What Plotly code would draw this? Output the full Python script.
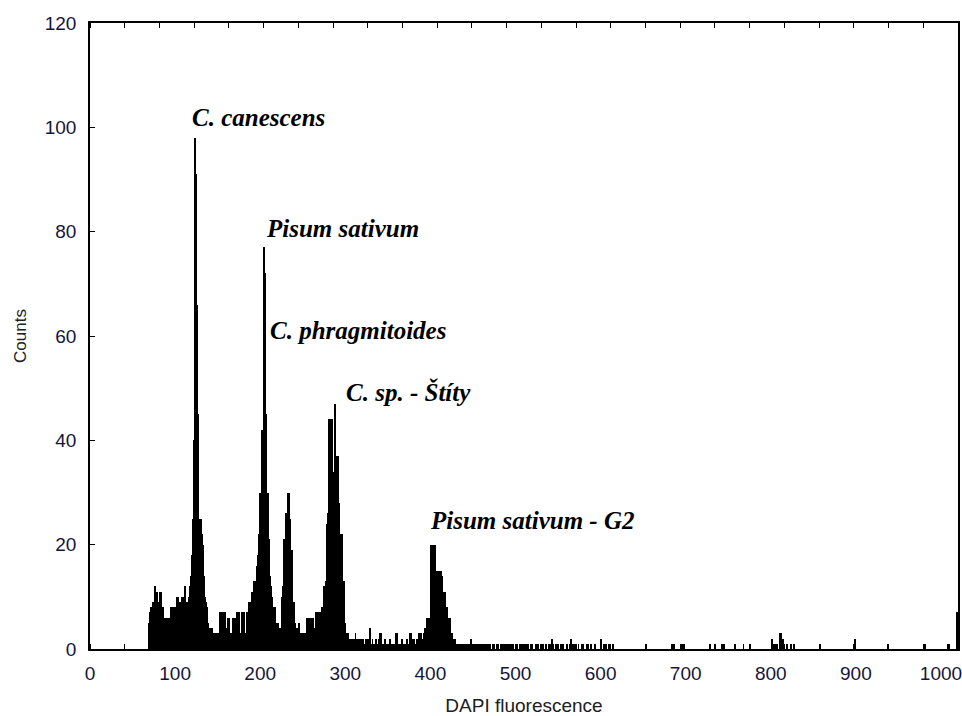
import plotly.graph_objects as go

# DAPI fluorescence histogram: counts per channel
body_start = 69
body_counts = [
    5, 5, 7, 8, 8, 9, 9, 12, 12, 11,        # 69-78
    11, 9, 9, 11, 11, 11, 8, 8, 6, 6,       # 79-88
    6, 6, 5, 5, 6, 6, 8, 8, 8, 7,           # 89-98
    8, 8, 8, 10, 10, 9, 9, 9, 9, 10,        # 99-108
    10, 8, 12, 12, 9, 9, 6, 10, 12, 12,     # 109-118
    14, 18, 25, 40, 98, 91, 91, 66, 45, 25, # 119-128
    25, 24, 25, 22, 20, 14, 10, 9, 8, 5,    # 129-138
    5, 4, 4, 4, 4, 3, 3, 3, 3, 3,           # 139-148
    3, 3, 3, 3, 7, 7, 7, 7, 6, 7,           # 149-158
    7, 4, 4, 6, 6, 3, 3, 3, 3, 6,           # 159-168
    6, 6, 2, 2, 7, 7, 7, 3, 3, 3,           # 169-178
    7, 7, 7, 3, 3, 7, 7, 7, 9, 9,           # 179-188
    9, 11, 11, 11, 13, 13, 13, 16, 18, 18,  # 189-198
    22, 30, 30, 42, 42, 77, 72, 72, 45, 30, # 199-208
    30, 21, 21, 14, 12, 10, 8, 8, 8, 5,     # 209-218
    5, 5, 5, 4, 4, 4, 6, 10, 12, 21,        # 219-228
    21, 26, 26, 30, 30, 30, 25, 19, 19, 13, # 229-238
    9, 9, 5, 4, 4, 4, 5, 5, 3, 3,           # 239-248
    3, 3, 3, 3, 3, 3, 6, 6, 2, 2,           # 249-258
    6, 6, 6, 6, 4, 4, 4, 7, 7, 7,           # 259-268
    7, 7, 7, 7, 8, 8, 12, 12, 13, 24,       # 269-278
    24, 26, 44, 44, 44, 44, 32, 34, 34, 47, # 279-288
    37, 37, 37, 28, 28, 22, 22, 22, 13, 13, # 289-298
    8, 5, 3, 3, 3, 2, 2, 1, 2, 2,           # 299-308
    1, 2, 2, 3, 2, 1, 2, 1, 2, 2,           # 309-318
    0, 1, 2, 1, 0, 2, 1, 2, 0, 2,           # 319-328
    4, 1, 0, 2, 1, 1, 0, 2, 1, 0,           # 329-338
    1, 2, 3, 3, 1, 1, 0, 1, 2, 1,           # 339-348
    1, 0, 1, 1, 2, 1, 0, 1, 1, 1,           # 349-358
    0, 3, 3, 1, 1, 0, 1, 1, 2, 1,           # 359-368
    0, 1, 1, 1, 2, 1, 1, 3, 3, 1,           # 369-378
    2, 1, 2, 1, 1, 2, 2, 2, 3, 2,           # 379-388
    3, 2, 2, 3, 2, 4, 4, 6, 6, 6,           # 389-398
    6, 6, 20, 20, 16, 20, 20, 15, 15, 15,   # 399-408
    15, 15, 15, 15, 14, 14, 11, 11, 11, 8,  # 409-418
    8, 8, 6, 6, 6, 3, 3,                    # 419-425
]

tail_start = 426
tail_counts = [
    2, 2, 1, 2, 1, 1, 0, 1, 1, 0, 1, 1, 1, 0, 1, 0, 1, 1, 0, 1,  # 426-445
    1, 0, 2, 1, 0, 1, 1, 0, 0, 1, 1, 0, 1, 0, 0, 1, 1, 0, 1, 0,  # 446-465
    0, 1, 0, 1, 1, 0, 0, 1, 0, 1, 0, 0, 1, 1, 0, 0, 0, 1, 0, 1,  # 466-485
    0, 0, 1, 1, 0, 1, 0, 0, 1, 0, 1, 1, 0, 0, 1, 0, 1, 0, 0, 1,  # 486-505
    1, 0, 0, 1, 0, 1, 0, 0, 1, 1, 0, 0, 1, 0, 1, 0, 0, 0, 1, 1,  # 506-525
    0, 1, 0, 0, 1, 0, 1, 1, 0, 0, 1, 0, 0, 1, 0, 1, 0, 2, 1, 0,  # 526-545
    0, 1, 0, 1, 1, 0, 0, 1, 0, 0, 1, 0, 0, 0, 1, 1, 0, 0, 1, 2,  # 546-565
    1, 0, 0, 1, 1, 0, 0, 0, 1, 0, 0, 0, 1, 0, 1, 0, 0, 0, 1, 1,  # 566-585
    0, 0, 0, 1, 0, 0, 0, 1, 1, 0, 0, 0, 0, 0, 2, 1, 0, 0, 1, 0,  # 586-605
    1, 1, 0, 0, 1, 0, 0, 0, 0, 1, 0, 0, 0, 0, 0, 0, 0, 0, 0, 0,  # 606-625
]

sparse_channels = [654, 684, 686, 694, 695, 697, 698, 728, 729, 735, 743, 745,
                   758, 768, 776, 801, 802, 803, 805, 806, 807, 811, 812, 813,
                   814, 819, 824, 827, 858, 899, 938, 981, 1008, 1009, 1019]
sparse_counts = [1, 1, 1, 1, 1, 1, 1, 1, 1, 1, 1, 1,
                 1, 1, 1, 2, 1, 1, 1, 1, 1, 3, 3, 2,
                 2, 1, 1, 1, 1, 2, 1, 1, 1, 1, 7]

x_ticks = list(range(0, 1001, 100))
y_ticks = list(range(0, 121, 20))

peak_names = ["C. canescens", "Pisum sativum", "C. phragmitoides",
              "C. sp. - Štíty", "Pisum sativum - G2"]

channels = (list(range(body_start, body_start + len(body_counts)))
            + list(range(tail_start, tail_start + len(tail_counts)))
            + sparse_channels)
counts = body_counts + tail_counts + sparse_counts

fig = go.Figure()
fig.add_trace(go.Bar(
    x=channels, y=counts, width=1,
    marker=dict(color="black", line=dict(width=0)),
    hoverinfo="x+y",
))

# label anchor points (data coordinates) for each peak name
label_pos = [(117.0, 101.8), (205.0, 80.6), (208.8, 61.0), (299.0, 49.2), (396.6, 24.7)]
annotations = []
for name, (lx, ly) in zip(peak_names, label_pos):
    annotations.append(dict(
        x=lx, y=ly, xref="x", yref="y", text="<b><i>%s</i></b>" % name,
        showarrow=False, xanchor="left", yanchor="middle",
        font=dict(family="Liberation Serif", size=25, color="black"),
    ))

tick_font = dict(family="Liberation Sans", size=19, color="#15153a")
title_font = dict(family="Liberation Sans", size=19, color="#202020")

fig.update_layout(
    width=962, height=716,
    margin=dict(l=90, r=4, t=23, b=67, autoexpand=False),
    paper_bgcolor="white", plot_bgcolor="white",
    bargap=0, showlegend=False,
    annotations=annotations,
    xaxis=dict(
        range=[0, 1020], tickvals=x_ticks, ticks="", automargin=False,
        ticklabeloverflow="allow",
        showline=True, linecolor="black", linewidth=1.5, mirror="ticks",
        minor=dict(tick0=0, dtick=40.8, ticks="inside", ticklen=5,
                   tickcolor="black", tickwidth=1, showgrid=False),
        showgrid=False, zeroline=False,
        tickfont=tick_font, ticklabelstandoff=6,
        title=dict(text="DAPI fluorescence", font=title_font, standoff=18),
    ),
    yaxis=dict(
        range=[0, 120], tickvals=y_ticks, ticks="inside", ticklen=5, automargin=False,
        ticklabeloverflow="allow",
        tickcolor="black", showline=True, linecolor="black", linewidth=1.5,
        mirror=True, showgrid=False, zeroline=False,
        tickfont=tick_font, ticklabelstandoff=8,
        title=dict(text="Counts", font=dict(family="Liberation Sans", size=17, color="#202020"),
                   standoff=14),
    ),
)

fig.write_html("out.html")
